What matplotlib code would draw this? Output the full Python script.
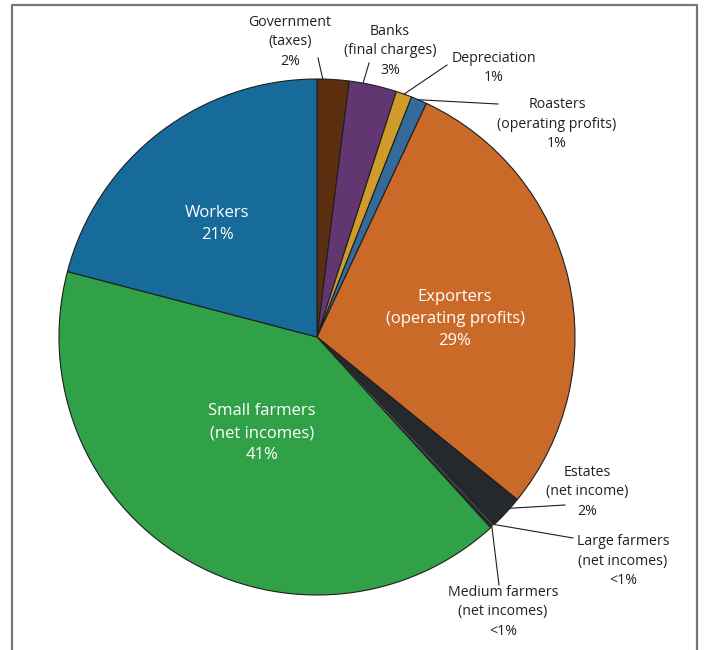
import numpy as np
import matplotlib
matplotlib.use('Agg')
from matplotlib import pyplot as plt

# Coffee value chain: who gets what share of the export price
names = ['Government', 'Banks', 'Depreciation', 'Roasters', 'Exporters', 'Estates',
         'Large farmers', 'Medium farmers', 'Small farmers', 'Workers']
shares = [2, 3, 1, 1, 29, 2, 0.2, 0.2, 41, 21]
labels = ['Government\n(taxes)\n2%', 'Banks\n(final charges)\n3%', 'Depreciation\n1%',
          'Roasters\n(operating profits)\n1%', 'Exporters\n(operating profits)\n29%',
          'Estates\n(net income)\n2%', 'Large farmers\n(net incomes)\n<1%',
          'Medium farmers\n(net incomes)\n<1%', 'Small farmers\n(net incomes)\n41%',
          'Workers\n21%']
colors = ['#5a2e0e', '#623670', '#d19b2b', '#356b9b', '#c96a29', '#26292c',
          '#26292c', '#26292c', '#31a148', '#176b9b']

W, H = 708, 650
cx, cy, R = 317, H - 337, 258

plt.rcParams['font.family'] = ['Open Sans', 'DejaVu Sans']

fig = plt.figure(figsize=(W / 100, H / 100), dpi=100)
ax = fig.add_axes([0, 0, 1, 1])

wedges, _ = ax.pie(shares, colors=colors, startangle=90, counterclock=False,
                   center=(cx, cy), radius=R, frame=True,
                   wedgeprops=dict(edgecolor='#1e1e1e', linewidth=0.8))
# the tiny farmer slices merge into the estates slice
for w in wedges[6:8]:
    w.set_linewidth(0)
ax.set_xlim(0, W)
ax.set_ylim(0, H)
ax.axis('off')

# labels drawn inside the big slices (pixel positions, y from top)
inside = {'Workers': (217, 224), 'Exporters': (455, 319), 'Small farmers': (262, 433)}
for nm, (x, y) in inside.items():
    i = names.index(nm)
    ax.text(x, H - y, labels[i], color='white', fontsize=12, ha='center',
            va='center', linespacing=1.5)

# outside labels: text centre, leader end point, how far along the slice (clockwise) the leader touches
outside = {
    'Government':     ((290, 42), (318, 58), 0.18),
    'Banks':          ((390, 51), (369, 63), 0.29),
    'Depreciation':   ((494, 68), (447, 65), 0.5),
    'Roasters':       ((557, 124), (498, 104), 0.45),
    'Estates':        ((587, 492), (565, 505), 0.35),
    'Large farmers':  ((623, 561), (573, 538), 0.5),
    'Medium farmers': ((503, 612), (499, 585), 0.5),
}
for nm, ((tx, ty), (lx, ly), frac) in outside.items():
    i = names.index(nm)
    w = wedges[i]
    ang = np.deg2rad(w.theta2 - frac * (w.theta2 - w.theta1))
    px, py = cx + R * np.cos(ang), cy + R * np.sin(ang)
    ax.plot([px, lx], [py, H - ly], color='#1e1e1e', lw=0.8)
    ax.text(tx, H - ty, labels[i], color='#231f20', fontsize=10.2, ha='center',
            va='center', linespacing=1.4)

# grey frame around the figure (open at the bottom)
fc = '#777777'
ax.plot([12, 12, 697, 697], [0, H - 5, H - 5, 0], color=fc, lw=1.6, clip_on=False)

fig.savefig('out.png', dpi=100)
